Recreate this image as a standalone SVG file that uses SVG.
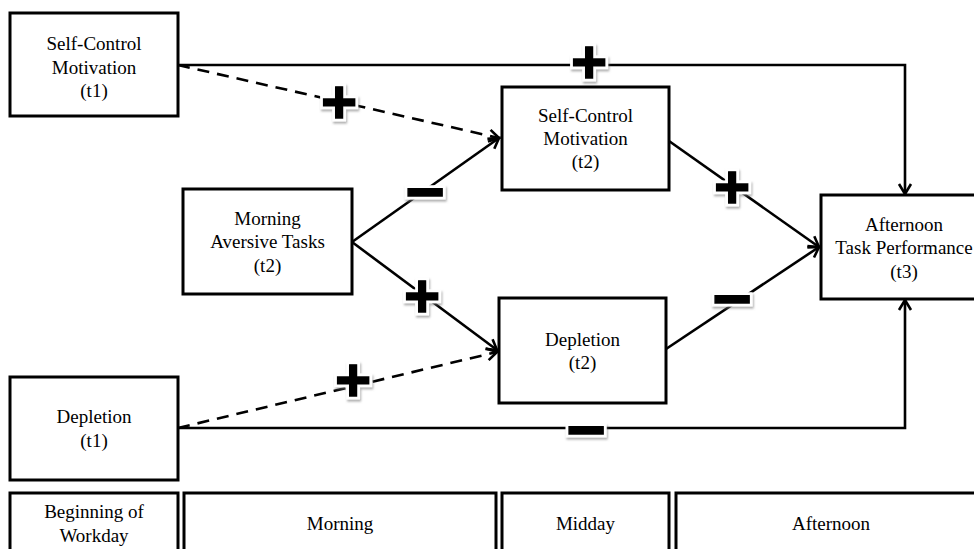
<svg xmlns="http://www.w3.org/2000/svg" width="974" height="549" viewBox="0 0 974 549">
<defs>
<style>
.box{fill:#fff;stroke:#000;stroke-width:3}
.lbl{font-family:"Liberation Serif","Times New Roman",serif;font-size:19px;fill:#000;text-anchor:middle}
.ln{fill:none;stroke:#000;stroke-width:2.6}
.dash{stroke-dasharray:12 8}
.sb{font-family:"Liberation Sans",Arial,sans-serif;font-weight:bold;font-size:62px;text-anchor:middle;fill:#fff;stroke:#fff;stroke-width:7;stroke-linejoin:miter;filter:url(#sh)}
.sf{font-family:"Liberation Sans",Arial,sans-serif;font-weight:bold;font-size:62px;text-anchor:middle;fill:#000;stroke:#000;stroke-width:1.4}
.m{font-size:68px}
</style>
<marker id="ar" markerUnits="userSpaceOnUse" markerWidth="14" markerHeight="16" refX="11" refY="7" orient="auto" viewBox="0 0 14 14">
<path d="M1,1 L11,7 L1,13" fill="none" stroke="#000" stroke-width="2.6"/>
</marker>
<filter id="sh" x="-30%" y="-30%" width="160%" height="160%">
<feDropShadow dx="1" dy="2" stdDeviation="1.2" flood-color="#777" flood-opacity="0.6"/>
</filter>
</defs>

<g id="connectors">
<polyline class="ln" points="178,65 905,65 905,194" marker-end="url(#ar)"/>
<polyline class="ln" points="178,428 905,428 905,300" marker-end="url(#ar)"/>
<line class="ln dash" x1="178" y1="65" x2="499" y2="138" marker-end="url(#ar)"/>
<line class="ln dash" x1="178" y1="428" x2="497" y2="352" marker-end="url(#ar)"/>
<line class="ln" x1="352" y1="242" x2="499" y2="138" marker-end="url(#ar)"/>
<line class="ln" x1="352" y1="242" x2="497" y2="350" marker-end="url(#ar)"/>
<line class="ln" x1="669" y1="141" x2="819" y2="247" marker-end="url(#ar)"/>
<line class="ln" x1="666" y1="349" x2="819" y2="247" marker-end="url(#ar)"/>
<g id="signs">
<text class="sb" x="589" y="83">+</text><text class="sf" x="589" y="83">+</text>
<text class="sb" x="339" y="123">+</text><text class="sf" x="339" y="123">+</text>
<text class="sb m" x="425" y="215">−</text><text class="sf m" x="425" y="215">−</text>
<text class="sb" x="732" y="208">+</text><text class="sf" x="732" y="208">+</text>
<text class="sb" x="422" y="317">+</text><text class="sf" x="422" y="317">+</text>
<text class="sb m" x="732" y="322">−</text><text class="sf m" x="732" y="322">−</text>
<text class="sb" x="353" y="401">+</text><text class="sf" x="353" y="401">+</text>
<text class="sb m" x="586" y="453">−</text><text class="sf m" x="586" y="453">−</text>
</g>
</g>

<g id="scm1"><rect class="box" x="10" y="13" width="168" height="103"/>
<text class="lbl" x="94" y="50">Self-Control</text><text class="lbl" x="94" y="74">Motivation</text><text class="lbl" x="94" y="97">(t1)</text></g>

<g id="scm2"><rect class="box" x="502" y="87" width="167" height="103"/>
<text class="lbl" x="585.5" y="122">Self-Control</text><text class="lbl" x="585.5" y="145">Motivation</text><text class="lbl" x="585.5" y="168">(t2)</text></g>

<g id="mat"><rect class="box" x="183" y="189" width="169" height="105"/>
<text class="lbl" x="267.5" y="225">Morning</text><text class="lbl" x="267.5" y="248">Aversive Tasks</text><text class="lbl" x="267.5" y="272">(t2)</text></g>

<g id="dep2"><rect class="box" x="499" y="298" width="167" height="105"/>
<text class="lbl" x="582.5" y="346">Depletion</text><text class="lbl" x="582.5" y="369">(t2)</text></g>

<g id="atp"><rect class="box" x="821" y="195" width="168" height="104"/>
<text class="lbl" x="904" y="231">Afternoon</text><text class="lbl" x="904" y="254">Task Performance</text><text class="lbl" x="904" y="278">(t3)</text></g>

<g id="dep1"><rect class="box" x="10" y="377" width="168" height="103"/>
<text class="lbl" x="94" y="423">Depletion</text><text class="lbl" x="94" y="447">(t1)</text></g>

<g id="t-begin"><rect class="box" x="10" y="493" width="168" height="70"/>
<text class="lbl" x="94" y="518">Beginning of</text><text class="lbl" x="94" y="542">Workday</text></g>
<g id="t-morning"><rect class="box" x="184" y="493" width="312" height="70"/>
<text class="lbl" x="340" y="530">Morning</text></g>
<g id="t-midday"><rect class="box" x="502" y="493" width="167" height="70"/>
<text class="lbl" x="585.5" y="530">Midday</text></g>
<g id="t-afternoon"><rect class="box" x="676" y="493" width="310" height="70"/>
<text class="lbl" x="831" y="530">Afternoon</text></g>
</svg>
